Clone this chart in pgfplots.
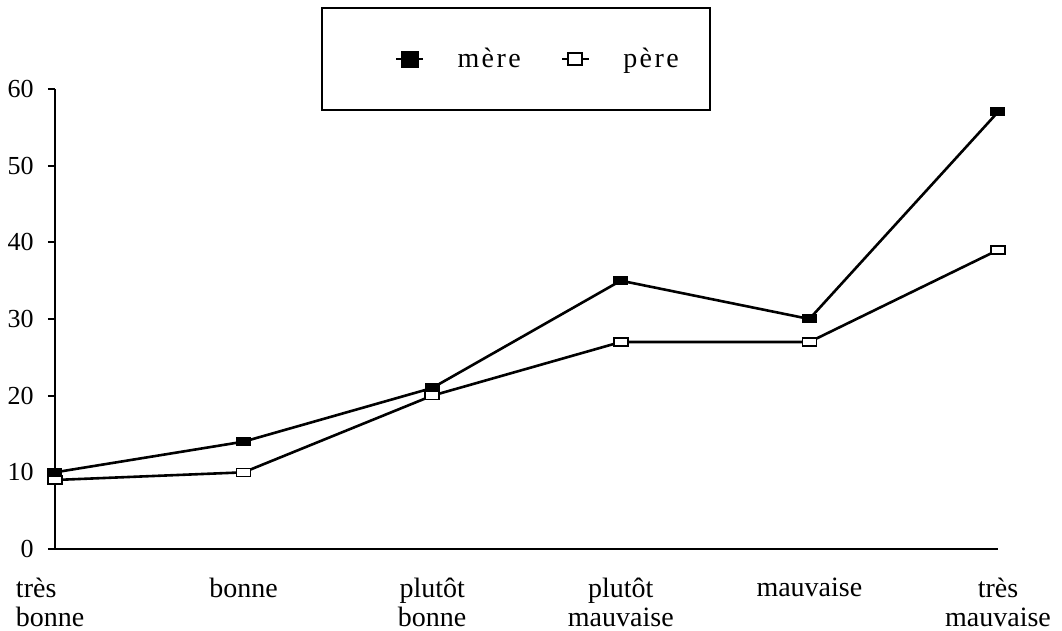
\documentclass[border=0pt]{standalone}
\usepackage{fontspec}
\setmainfont{Liberation Serif}
\usepackage{pgfplots}
\pgfplotsset{compat=1.18}
\begin{document}
\begin{tikzpicture}
\useasboundingbox (-27.5pt,-41pt) rectangle (503.5pt,274.5pt);
\begin{axis}[
  at={(0pt,0pt)}, anchor=south west,
  scale only axis, width=471.5pt, height=230pt,
  xmin=0, xmax=5, ymin=0, ymax=60,
  axis x line=bottom, axis y line=left,
  axis line style={-, line width=1.4pt, black},
  clip=false,
  xtick={0,1,2,3,4,5},
  xticklabels={{\makebox[39pt][l]{très}\\\makebox[39pt][l]{bonne}}, bonne, {plutôt\\bonne}, {plutôt\\mauvaise}, mauvaise, {très\\mauvaise}},
  xticklabel style={align=center, anchor=north, inner sep=0pt, yshift=-11pt, font=\fontsize{14}{14.5}\selectfont},
  xtick style={draw=none},
  ytick={0,10,20,30,40,50,60},
  tick align=outside,
  major tick length=3.5pt,
  ytick style={line width=1pt, black},
  yticklabel style={font=\fontsize{13}{14}\selectfont, inner sep=0pt, xshift=-7pt},
  /pgf/number format/assume math mode=true,
  legend columns=2,
  legend style={draw=none, fill=none, inner sep=0pt, outer sep=0pt,
    at={(0.3605,1.0652)}, anchor=west,
    font=\fontsize{14}{15}\selectfont,
    nodes={inner sep=0pt},
    /tikz/column sep=0pt,
    /tikz/every even column/.append style={column sep=20pt}},
]
\addplot[black, line width=1.3pt, mark=square*, mark size=2pt,
  mark options={xscale=1.75, fill=black, line width=0.5pt},
  legend image code/.code={
    \draw[black, line width=1.3pt] (0pt,0pt) -- (13.5pt,0pt);
    \fill[black] (3pt,-3.6pt) rectangle (10.5pt,3.6pt);}]
  coordinates {(0,10) (1,14) (2,21) (3,35) (4,30) (5,57)};
\addlegendentry{\hspace*{16.5pt}m\kern1.2pt è\kern1.2pt r\kern1.2pt e}
\addplot[black, line width=1.3pt, mark=square*, mark size=2pt,
  mark options={xscale=1.75, fill=white, draw=black, line width=0.8pt},
  legend image code/.code={
    \draw[black, line width=1.3pt] (0pt,0pt) -- (13.5pt,0pt);
    \draw[black, fill=white, line width=1pt] (3.2pt,-3.2pt) rectangle (10.2pt,3.2pt);}]
  coordinates {(0,9) (1,10) (2,20) (3,27) (4,27) (5,39)};
\addlegendentry{\hspace*{16.5pt}p\kern1.2pt è\kern1.2pt r\kern1.2pt e}
\draw[black, line width=1pt] (rel axis cs:0.2831,0.9543) rectangle (rel axis cs:0.6946,1.1761);
\end{axis}
\end{tikzpicture}
\end{document}
